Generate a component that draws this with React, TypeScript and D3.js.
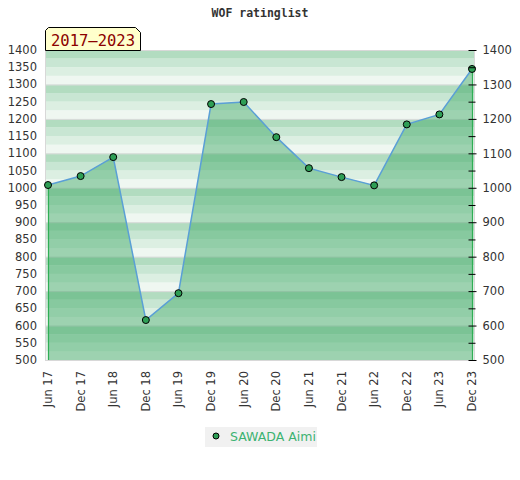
import React, { useEffect, useRef } from "react";
import * as d3 from "d3";

const WIDTH = 520;
const HEIGHT = 480;

const periods = [
  "Jun 17", "Dec 17", "Jun 18", "Dec 18", "Jun 19", "Dec 19", "Jun 20",
  "Dec 20", "Jun 21", "Dec 21", "Jun 22", "Dec 22", "Jun 23", "Dec 23",
];
const ratings = [
  1008, 1034, 1089, 616, 694, 1243, 1249, 1147, 1057, 1031, 1007, 1184, 1213, 1345,
];
const leftTicks = d3.range(500, 1401, 50);
const rightTicks = d3.range(500, 1401, 100);
const rightMinor = d3.range(550, 1400, 100);
const seriesName = "SAWADA Aimi";
const titleText = "WOF ratinglist";
const tabText = "2017\u20132023";

// plot frame
const FX0 = 45;
const FX1 = 475;
const FY0 = 50;
const FY1 = 360;
const PX0 = 48;
const PX1 = 472;

const bandLight = ["#b2dcc0", "#c8e6d3", "#dcefe2", "#eff7f1"];

const App: React.FC = () => {
  const ref = useRef<SVGSVGElement>(null);

  useEffect(() => {
    const container = ref.current;
    if (!container) return;
    const svg = d3.select(container);
    svg.selectAll("*").remove();

    svg.append("rect").attr("width", WIDTH).attr("height", HEIGHT).attr("fill", "#fff");

    const x = d3
      .scalePoint<string>()
      .domain(periods)
      .range([PX0, PX1]);
    const y = d3.scaleLinear().domain([500, 1400]).range([FY1, FY0]);

    // banded background, 4 bands per 100
    const bands = d3.range(500, 1400, 25);
    svg
      .append("g")
      .selectAll("rect")
      .data(bands)
      .enter()
      .append("rect")
      .attr("x", FX0)
      .attr("width", FX1 - FX0)
      .attr("y", (d) => y(d + 25))
      .attr("height", (d) => y(d) - y(d + 25))
      .attr("fill", (d) => bandLight[3 - ((d - 500) / 25) % 4]);

    // grid lines
    svg
      .append("g")
      .selectAll("line")
      .data(rightTicks)
      .enter()
      .append("line")
      .attr("x1", FX0)
      .attr("x2", FX1)
      .attr("y1", (d) => y(d) + 0.5)
      .attr("y2", (d) => y(d) + 0.5)
      .attr("stroke", "#dcdcdc")
      .attr("stroke-width", 1);

    const data = periods.map((p, i) => ({ p, v: ratings[i] }));

    const area = d3
      .area<{ p: string; v: number }>()
      .x((d) => x(d.p)!)
      .y0(FY1)
      .y1((d) => y(d.v));
    svg
      .append("path")
      .datum(data)
      .attr("d", area)
      .attr("fill", "rgb(53,163,94)")
      .attr("fill-opacity", 0.44);

    const line = d3
      .line<{ p: string; v: number }>()
      .x((d) => x(d.p)!)
      .y((d) => y(d.v));
    svg
      .append("path")
      .datum(data)
      .attr("d", line)
      .attr("fill", "none")
      .attr("stroke", "#5a9fd6")
      .attr("stroke-width", 1.5);

    // frame
    svg
      .append("rect")
      .attr("x", FX0 + 0.5)
      .attr("y", FY0 + 0.5)
      .attr("width", FX1 - FX0 - 1)
      .attr("height", FY1 - FY0)
      .attr("fill", "none")
      .attr("stroke", "#d8d8d8");

    // green vertical lines under the end points
    [0, ratings.length - 1].forEach((i) => {
      const px = x(periods[i])!;
      svg
        .append("line")
        .attr("x1", px + 0.5)
        .attr("x2", px + 0.5)
        .attr("y1", y(ratings[i]))
        .attr("y2", FY1)
        .attr("stroke", "#2fae55")
        .attr("stroke-width", 1.2);
    });

    // markers
    svg
      .append("g")
      .selectAll("circle")
      .data(data)
      .enter()
      .append("circle")
      .attr("cx", (d) => x(d.p)!)
      .attr("cy", (d) => y(d.v))
      .attr("r", 3.5)
      .attr("fill", "#2e9e55")
      .attr("stroke", "#000")
      .attr("stroke-width", 1);

    // left axis labels
    svg
      .append("g")
      .selectAll("text")
      .data(leftTicks)
      .enter()
      .append("text")
      .attr("x", 37)
      .attr("y", (d) => y(d) + 4)
      .attr("text-anchor", "end")
      .attr("font-family", "DejaVu Sans")
      .attr("font-size", 11.5)
      .attr("fill", "#333")
      .text((d) => d);

    // right axis
    const right = d3
      .axisRight(y)
      .tickValues(rightTicks)
      .tickSize(4)
      .tickPadding(6)
      .tickFormat((d) => String(d));
    const rg = svg
      .append("g")
      .attr("transform", `translate(${PX1 + 0.5},0)`)
      .call(right);
    rg.select(".domain").remove();
    rg.selectAll(".tick line").attr("x1", -4).attr("stroke", "#000");
    rg.selectAll(".tick text")
      .attr("font-family", "DejaVu Sans")
      .attr("font-size", 11.5)
      .attr("fill", "#333");
    svg
      .append("g")
      .selectAll("line")
      .data(rightMinor)
      .enter()
      .append("line")
      .attr("x1", PX1 - 3.5)
      .attr("x2", PX1 + 3.5)
      .attr("y1", (d) => y(d) + 0.5)
      .attr("y2", (d) => y(d) + 0.5)
      .attr("stroke", "#000");

    // x labels
    svg
      .append("g")
      .selectAll("text")
      .data(periods)
      .enter()
      .append("text")
      .attr(
        "transform",
        (d) => `translate(${x(d)! + 4},${FY1 + 11}) rotate(-90)`
      )
      .attr("text-anchor", "end")
      .attr("font-family", "DejaVu Sans")
      .attr("font-size", 11.5)
      .attr("fill", "#333")
      .text((d) => d);

    // title
    svg
      .append("text")
      .attr("x", 260)
      .attr("y", 17)
      .attr("text-anchor", "middle")
      .attr("font-family", "DejaVu Sans Mono")
      .attr("font-weight", "bold")
      .attr("font-size", 11.5)
      .attr("fill", "#333")
      .text(titleText);

    // tab
    const tx0 = 45.5;
    const tx1 = 140.5;
    const ty0 = 27.5;
    const ty1 = 50.5;
    svg
      .append("path")
      .attr(
        "d",
        `M${tx0},${ty1}L${tx0},${ty0 + 3}L${tx0 + 3},${ty0}L${tx1 - 5},${ty0}L${tx1},${ty0 + 5}L${tx1},${ty1}Z`
      )
      .attr("fill", "#ffffcc")
      .attr("stroke", "#000");
    svg
      .append("text")
      .attr("x", (tx0 + tx1) / 2)
      .attr("y", 46)
      .attr("text-anchor", "middle")
      .attr("font-family", "DejaVu Sans Mono")
      .attr("font-size", 15.5)
      .attr("fill", "#8b0000")
      .text(tabText);

    // legend
    svg
      .append("rect")
      .attr("x", 205)
      .attr("y", 427)
      .attr("width", 112)
      .attr("height", 20)
      .attr("fill", "#f1f1f1");
    svg
      .append("circle")
      .attr("cx", 216)
      .attr("cy", 436)
      .attr("r", 3)
      .attr("fill", "#2e9e55")
      .attr("stroke", "#000");
    svg
      .append("text")
      .attr("x", 230)
      .attr("y", 441)
      .attr("font-family", "DejaVu Sans")
      .attr("font-size", 12.5)
      .attr("fill", "#3cb371")
      .text(seriesName);
  }, [ref]);

  return (
    <svg
      ref={ref}
      width={WIDTH}
      height={HEIGHT}
      style={{ display: "block", margin: "-8px" }}
    />
  );
};

export default App;
